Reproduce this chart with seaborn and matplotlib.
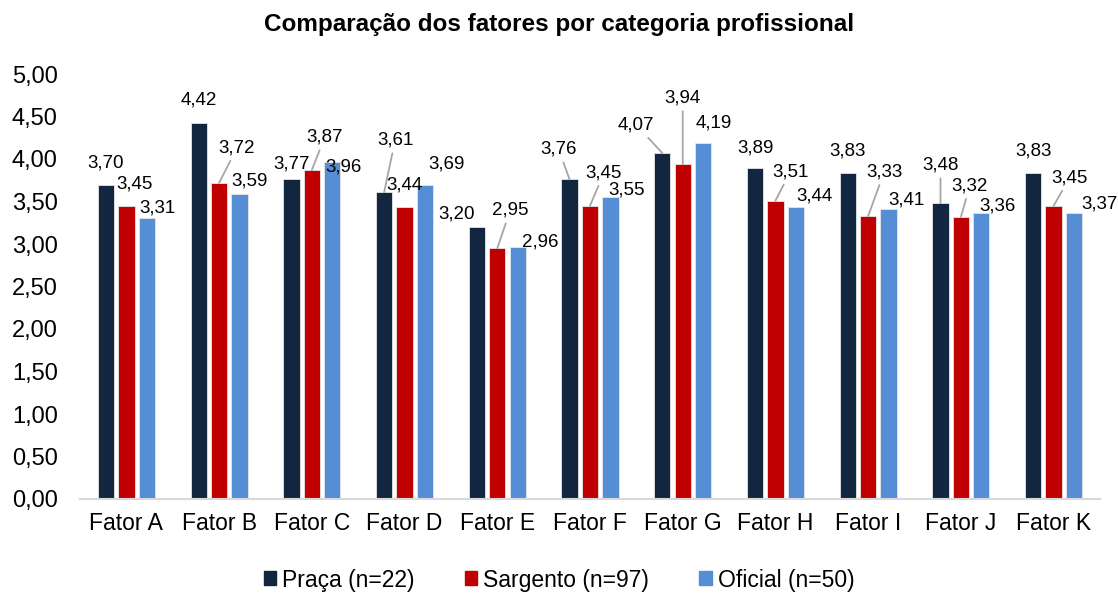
import matplotlib
matplotlib.use("Agg")
import matplotlib.pyplot as plt
import pandas as pd
import seaborn as sns

# dados
fatores = ["Fator A", "Fator B", "Fator C", "Fator D", "Fator E", "Fator F",
           "Fator G", "Fator H", "Fator I", "Fator J", "Fator K"]
grupos = ["Praça (n=22)", "Sargento (n=97)", "Oficial (n=50)"]
praca = [3.70, 4.42, 3.77, 3.61, 3.20, 3.76, 4.07, 3.89, 3.83, 3.48, 3.83]
sargento = [3.45, 3.72, 3.87, 3.44, 2.95, 3.45, 3.94, 3.51, 3.33, 3.32, 3.45]
oficial = [3.31, 3.59, 3.96, 3.69, 2.96, 3.55, 4.19, 3.44, 3.41, 3.36, 3.37]
cores = ["#12263F", "#C00000", "#558ED5"]
yticks = [0, 0.5, 1, 1.5, 2, 2.5, 3, 3.5, 4, 4.5, 5]

# deslocamento dos rótulos (px, para a direita / para baixo) em relação ao topo da barra
desloc = [
    [(0, -21), (0, -23), (0, -15), (11, -52), (-20, -13), (-11, -30),
     (-26, -28), (0, -20), (0, -22), (0, -38), (0, -22)],
    [(8, -22), (18, -35), (13, -33), (0, -22), (13, -38), (14, -33),
     (0, -66), (15, -29), (16, -44), (9, -31), (16, -28)],
    [(11, -10), (10, -13), (11, 5), (22, -21), (23, -5), (16, -7),
     (11, -20), (19, -11), (18, -9), (16, -7), (25, -9)],
]
# rótulos com linha de chamada (grupo, fator)
chamadas = {(1, 1), (1, 2), (0, 3), (1, 4), (0, 5), (1, 5), (0, 6), (1, 6),
            (1, 7), (1, 8), (0, 9), (1, 9), (1, 10)}

df = pd.DataFrame({
    "fator": fatores * 3,
    "grupo": [g for g in grupos for _ in fatores],
    "valor": praca + sargento + oficial,
})

sns.set_theme(style="white")
plt.rcParams["font.family"] = ["Liberation Sans", "DejaVu Sans"]
plt.rcParams["text.color"] = "black"
plt.rcParams["xtick.color"] = "black"
plt.rcParams["ytick.color"] = "black"

fig = plt.figure(figsize=(11.18, 5.94), dpi=100)
ax = fig.add_axes([80 / 1118, 1 - 499 / 594, 1020 / 1118, 425 / 594])

sns.barplot(data=df, x="fator", y="valor", hue="grupo", order=fatores,
            hue_order=grupos, palette=cores, saturation=1, width=0.66, gap=0.2,
            edgecolor="#e6e6e6", linewidth=0.6, ax=ax)

for gi, cont in enumerate(ax.containers):
    for ci, bar in enumerate(cont):
        x = bar.get_x() + bar.get_width() / 2
        y = bar.get_height()
        dx, dy = desloc[gi][ci]
        txt = f"{y:.2f}".replace(".", ",")
        seta = None
        if (gi, ci) in chamadas:
            seta = dict(arrowstyle="-", color="#a6a6a6", lw=1.3,
                        shrinkA=1, shrinkB=0)
        ax.annotate(txt, xy=(x, y), xytext=(dx, -dy), textcoords="offset pixels",
                    ha="center", va="center", fontsize=13.5, color="black",
                    arrowprops=seta)

ax.set_ylim(0, 5)
ax.set_xlim(-0.5, len(fatores) - 0.5)
ax.set_yticks(yticks)
ax.set_yticklabels([f"{v:.2f}".replace(".", ",") for v in yticks])
ax.tick_params(axis="y", labelsize=17, pad=16, length=0)
ax.tick_params(axis="x", labelsize=16.5, pad=9, length=0)
ax.set_xlabel("")
ax.set_ylabel("")
for s in ["top", "right", "left"]:
    ax.spines[s].set_visible(False)
ax.spines["bottom"].set_color("#d9d9d9")
ax.spines["bottom"].set_linewidth(1.5)
ax.grid(False)

fig.text(0.5, 1 - 25 / 594, "Comparação dos fatores por categoria profissional",
         ha="center", va="center", fontsize=17.5, fontweight="bold")

ax.legend_.remove()
handles = [plt.Rectangle((0, 0), 1, 1, color=c) for c in cores]
fig.legend(handles, grupos, loc="center", bbox_to_anchor=(0.5, 1 - 580 / 594),
           ncol=3, frameon=False, fontsize=16.5, handlelength=0.55, handleheight=0.55,
           handletextpad=0.25, columnspacing=2.2)

fig.savefig("out.png", dpi=100)
